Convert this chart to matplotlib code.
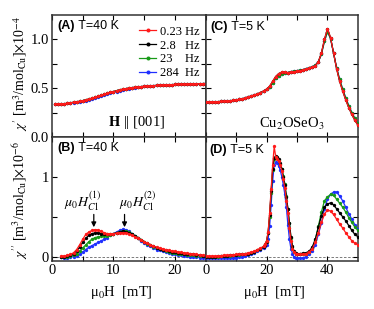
import matplotlib
matplotlib.use('Agg')
import matplotlib.pyplot as plt

plt.rcParams['font.family'] = ['Liberation Serif', 'DejaVu Serif']
plt.rcParams['mathtext.fontset'] = 'stix'

# legend labels / colours per frequency
freqs = ['0.23 Hz', '2.8   Hz', '23    Hz', '284  Hz']
colors = ['#ff1a1a', '#000000', '#189a18', '#1f2fff']

# ---------------- (A) chi' at T=40 K ----------------
field_A = [0.5, 1.0, 1.5, 2.0, 2.5, 3.0, 3.5, 4.0, 4.5, 5.0, 5.5, 6.0, 6.5, 7.0, 7.5,
           8.0, 8.5, 9.0, 9.5, 10.0, 10.5, 11.0, 11.5, 12.0, 12.5, 13.0, 13.5, 14.0,
           14.5, 15.0, 15.5, 16.0, 16.5, 17.0, 17.5, 18.0, 18.5, 19.0, 19.5, 20.0,
           20.5, 21.0, 21.5, 22.0, 22.5, 23.0, 23.5, 24.0, 24.5, 25.0]
chi1_A_023 = [0.34, 0.34, 0.34, 0.34, 0.345, 0.35, 0.355, 0.36, 0.365, 0.372, 0.38, 0.388,
              0.397, 0.406, 0.416, 0.426, 0.436, 0.446, 0.456, 0.465, 0.474, 0.482, 0.489,
              0.495, 0.50, 0.505, 0.509, 0.513, 0.516, 0.519, 0.522, 0.524, 0.526, 0.528,
              0.53, 0.532, 0.533, 0.535, 0.536, 0.538, 0.539, 0.54, 0.541, 0.542, 0.543,
              0.544, 0.545, 0.546, 0.547, 0.548]
chi1_A_28 = chi1_A_023
chi1_A_23 = chi1_A_023
chi1_A_284 = [0.34, 0.34, 0.34, 0.34, 0.343, 0.347, 0.35, 0.354, 0.358, 0.364, 0.371, 0.378,
              0.386, 0.395, 0.405, 0.415, 0.425, 0.436, 0.446, 0.456, 0.466, 0.475, 0.483,
              0.49, 0.496, 0.502, 0.507, 0.511, 0.515, 0.518, 0.521, 0.524, 0.526, 0.528,
              0.53, 0.532, 0.533, 0.535, 0.536, 0.538, 0.539, 0.54, 0.541, 0.542, 0.543,
              0.544, 0.545, 0.546, 0.547, 0.548]

# ---------------- (C) chi' at T=5 K ----------------
field_C = list(range(0, 51))
chi1_C_023 = [0.36, 0.36, 0.36, 0.36, 0.36, 0.365, 0.365, 0.37, 0.37, 0.375, 0.38, 0.385,
              0.39, 0.40, 0.41, 0.42, 0.43, 0.44, 0.455, 0.47, 0.49, 0.52, 0.57, 0.62, 0.65,
              0.665, 0.665, 0.66, 0.665, 0.67, 0.675, 0.68, 0.69, 0.695, 0.705, 0.715, 0.73,
              0.77, 0.86, 1.0, 1.11, 1.02, 0.86, 0.70, 0.57, 0.47, 0.38, 0.30, 0.23, 0.17, 0.12]
chi1_C_28 = chi1_C_023
chi1_C_284 = [0.36, 0.36, 0.36, 0.36, 0.36, 0.365, 0.365, 0.37, 0.37, 0.375, 0.38, 0.385,
              0.39, 0.40, 0.41, 0.42, 0.43, 0.44, 0.455, 0.47, 0.49, 0.51, 0.55, 0.60, 0.63,
              0.645, 0.655, 0.66, 0.67, 0.675, 0.68, 0.685, 0.69, 0.70, 0.71, 0.72, 0.735,
              0.77, 0.85, 0.98, 1.08, 1.01, 0.86, 0.71, 0.59, 0.49, 0.40, 0.32, 0.25, 0.19, 0.14]
chi1_C_23 = chi1_C_284

# ---------------- (B) chi'' at T=40 K ----------------
field_B = [1.5, 2.0, 2.5, 3.0, 3.5, 4.0, 4.5, 5.0, 5.5, 6.0, 6.5, 7.0, 7.5, 8.0, 8.5,
           9.0, 9.5, 10.0, 10.5, 11.0, 11.5, 12.0, 12.5, 13.0, 13.5, 14.0, 14.5, 15.0,
           15.5, 16.0, 16.5, 17.0, 17.5, 18.0, 18.5, 19.0, 19.5, 20.0, 20.5, 21.0,
           21.5, 22.0, 22.5, 23.0, 23.5, 24.0, 24.5, 25.0]
chi2_B_023 = [0.01, 0.01, 0.02, 0.03, 0.05, 0.09, 0.15, 0.22, 0.28, 0.31, 0.33, 0.34, 0.335,
              0.32, 0.30, 0.29, 0.29, 0.29, 0.295, 0.30, 0.30, 0.30, 0.29, 0.27, 0.25, 0.23,
              0.21, 0.19, 0.17, 0.15, 0.135, 0.12, 0.11, 0.10, 0.09, 0.08, 0.075, 0.07, 0.06,
              0.055, 0.05, 0.045, 0.04, 0.035, 0.03, 0.025, 0.02, 0.02]
chi2_B_28 = [0.0, 0.0, 0.01, 0.02, 0.04, 0.07, 0.12, 0.18, 0.23, 0.27, 0.29, 0.30, 0.30,
             0.29, 0.28, 0.28, 0.285, 0.29, 0.30, 0.31, 0.32, 0.315, 0.30, 0.28, 0.26, 0.235,
             0.21, 0.19, 0.17, 0.15, 0.13, 0.115, 0.10, 0.09, 0.08, 0.07, 0.065, 0.06, 0.05,
             0.045, 0.04, 0.035, 0.03, 0.03, 0.025, 0.02, 0.015, 0.015]
chi2_B_23 = [0.0, 0.0, 0.0, 0.01, 0.02, 0.04, 0.07, 0.11, 0.15, 0.19, 0.22, 0.24, 0.25,
             0.255, 0.26, 0.265, 0.275, 0.285, 0.30, 0.315, 0.325, 0.325, 0.31, 0.29, 0.265,
             0.24, 0.215, 0.19, 0.165, 0.145, 0.125, 0.11, 0.095, 0.08, 0.07, 0.06, 0.05,
             0.045, 0.04, 0.035, 0.03, 0.025, 0.02, 0.02, 0.015, 0.01, 0.01, 0.01]
chi2_B_284 = [0.0, -0.01, -0.01, 0.0, 0.0, 0.01, 0.03, 0.06, 0.09, 0.12, 0.14, 0.16, 0.18,
              0.20, 0.22, 0.24, 0.27, 0.29, 0.31, 0.33, 0.345, 0.34, 0.32, 0.29, 0.26, 0.23,
              0.20, 0.17, 0.15, 0.13, 0.11, 0.09, 0.08, 0.07, 0.06, 0.05, 0.04, 0.03, 0.02,
              0.02, 0.01, 0.01, 0.0, 0.0, 0.0, -0.01, -0.01, -0.01]

# ---------------- (D) chi'' at T=5 K ----------------
field_D = [0, 1, 2, 3, 4, 5, 6, 7, 8, 9, 10, 11, 12, 13, 14, 15, 16, 17, 18, 19,
           19.5, 20, 20.5, 21, 21.5, 22, 22.5, 23, 23.5, 24, 24.5, 25, 25.5, 26, 26.5,
           27, 27.5, 28, 28.5, 29, 29.5, 30,
           31, 32, 33, 34, 35, 36, 37, 38, 39, 40, 41, 42, 43, 44, 45, 46, 47, 48, 49, 50]
chi2_D_023 = [0.01, 0.01, 0.01, 0.01, 0.01, 0.015, 0.02, 0.02, 0.02, 0.025, 0.03, 0.03,
              0.035, 0.04, 0.05, 0.06, 0.07, 0.09, 0.11, 0.13,
              0.16, 0.20, 0.31, 0.55, 0.85, 1.15, 1.38, 1.25, 1.22, 1.20, 1.15, 1.07, 0.97,
              0.86, 0.70, 0.55, 0.36, 0.20, 0.10, 0.06, 0.04, 0.03,
              0.03, 0.03, 0.04, 0.06, 0.10, 0.18, 0.30, 0.43, 0.53, 0.59, 0.57, 0.53, 0.47,
              0.41, 0.36, 0.30, 0.25, 0.20, 0.17, 0.15]
chi2_D_28 = [0.0, 0.0, 0.0, 0.0, 0.005, 0.01, 0.01, 0.015, 0.02, 0.02, 0.025, 0.03, 0.03,
             0.035, 0.04, 0.05, 0.06, 0.08, 0.10, 0.12,
             0.15, 0.19, 0.30, 0.52, 0.82, 1.10, 1.24, 1.26, 1.25, 1.22, 1.17, 1.10, 1.00,
             0.90, 0.75, 0.60, 0.42, 0.25, 0.13, 0.07, 0.05, 0.04,
             0.04, 0.045, 0.05, 0.07, 0.12, 0.22, 0.37, 0.51, 0.62, 0.66, 0.675, 0.65, 0.60,
             0.55, 0.50, 0.45, 0.39, 0.33, 0.28, 0.25]
chi2_D_23 = [0.0, 0.0, 0.0, 0.0, 0.0, 0.005, 0.01, 0.01, 0.015, 0.02, 0.02, 0.025, 0.03,
             0.035, 0.04, 0.05, 0.06, 0.08, 0.10, 0.13,
             0.16, 0.20, 0.30, 0.50, 0.80, 1.08, 1.22, 1.25, 1.24, 1.21, 1.16, 1.10, 1.01,
             0.91, 0.76, 0.60, 0.42, 0.24, 0.12, 0.06, 0.04, 0.03,
             0.03, 0.035, 0.04, 0.06, 0.11, 0.21, 0.38, 0.56, 0.70, 0.75, 0.78, 0.77, 0.72,
             0.67, 0.62, 0.56, 0.49, 0.43, 0.37, 0.33]
chi2_D_284 = [-0.01, -0.01, -0.02, -0.02, -0.02, -0.02, -0.02, -0.02, -0.015, -0.01, -0.01,
              -0.005, 0.0, 0.01, 0.02, 0.03, 0.05, 0.07, 0.09, 0.11,
              0.13, 0.15, 0.22, 0.38, 0.65, 0.95, 1.15, 1.18, 1.17, 1.14, 1.08, 1.00, 0.90,
              0.78, 0.62, 0.40, 0.22, 0.10, 0.04, 0.0, -0.01, -0.02,
              -0.02, -0.01, 0.0, 0.03, 0.07, 0.15, 0.28, 0.42, 0.60, 0.72, 0.78, 0.81, 0.81,
              0.76, 0.70, 0.62, 0.54, 0.47, 0.40, 0.35]

fig = plt.figure(figsize=(3.74, 3.09), dpi=100)
axA = fig.add_axes([0.139, 0.557, 0.411, 0.394])
axC = fig.add_axes([0.550, 0.557, 0.407, 0.394])
axB = fig.add_axes([0.139, 0.156, 0.411, 0.401])
axD = fig.add_axes([0.550, 0.156, 0.407, 0.401])


def draw(ax, x, series):
    # highest frequency first so the 0.23 Hz curve ends up on top
    for i in [3, 2, 1, 0]:
        ax.plot(x, series[i], '-o', color=colors[i], lw=0.9, ms=2.4,
                mew=0, label=freqs[i], zorder=3 + (3 - i))


draw(axA, field_A, [chi1_A_023, chi1_A_28, chi1_A_23, chi1_A_284])
draw(axC, field_C, [chi1_C_023, chi1_C_28, chi1_C_23, chi1_C_284])
draw(axB, field_B, [chi2_B_023, chi2_B_28, chi2_B_23, chi2_B_284])
draw(axD, field_D, [chi2_D_023, chi2_D_28, chi2_D_23, chi2_D_284])

for ax in [axB, axD]:
    ax.axhline(0, color='#666666', ls='--', lw=0.6, dashes=(3, 2), zorder=1)

# limits and ticks
for ax in [axA, axB]:
    ax.set_xlim(0, 25)
    ax.set_xticks([0, 10, 20])
    ax.set_xticks([5, 15], minor=True)
for ax in [axC, axD]:
    ax.set_xlim(0, 50)
    ax.set_xticks([0, 20, 40])
    ax.set_xticks([10, 30], minor=True)
for ax in [axA, axC]:
    ax.set_ylim(0, 1.25)
    ax.set_yticks([0, 0.5, 1.0])
    ax.set_yticks([0.25, 0.75], minor=True)
    ax.tick_params(labelbottom=False)
for ax in [axB, axD]:
    ax.set_ylim(-0.05, 1.5)
    ax.set_yticks([0, 1])
    ax.set_yticks([0.5], minor=True)
axA.set_yticklabels(['0.0', '0.5', '1.0'])
axC.tick_params(labelleft=False)
axD.tick_params(labelleft=False)

for ax in [axA, axB, axC, axD]:
    ax.tick_params(which='both', direction='in', top=True, right=True,
                   length=3.5, width=0.8, labelsize=10.5, pad=2)
    for s in ax.spines.values():
        s.set_linewidth(1.1)
        s.set_color('#333333')

# axis labels
axA.set_ylabel(r"$\chi'$ [m$^3$/mol$_{\rm Cu}$]$\times$10$^{-4}$", fontsize=10)
axB.set_ylabel(r"$\chi''$ [m$^3$/mol$_{\rm Cu}$]$\times$10$^{-6}$", fontsize=10)
axA.yaxis.set_label_coords(-0.14, 0.52)
axB.yaxis.set_label_coords(-0.14, 0.49)
for ax in [axB, axD]:
    ax.set_xlabel(r"μ$_0$H  [mT]", fontsize=10.5)
    ax.xaxis.set_label_coords(0.45, -0.19)

# panel labels
panels = [(axA, '(A)', ' T=40 K', 0.033, 0.91), (axB, '(B)', ' T=40 K', 0.033, 0.91),
          (axC, '(C)', ' T=5 K', 0.033, 0.905), (axD, '(D)', ' T=5 K', 0.024, 0.895)]
for ax, tag, temp, px, py in panels:
    t = ax.text(px, py, tag, transform=ax.transAxes, fontsize=9, weight='bold',
                family='Liberation Sans', va='center', ha='left', zorder=10)
    ax.annotate(temp, xy=(1, 0.5), xycoords=t, fontsize=9, family='Liberation Sans',
                va='center', ha='left', zorder=10)

# legend in (A)
handles, labels = axA.get_legend_handles_labels()
axA.legend(handles[::-1], labels[::-1], loc='upper right', bbox_to_anchor=(1.01, 0.975),
           frameon=False, fontsize=9, handlelength=1.4, handletextpad=0.3,
           labelspacing=0.15, borderaxespad=0.2, markerscale=1.2)

axA.text(0.55, 0.12, r"$\mathbf{H}$ || [001]", transform=axA.transAxes,
         fontsize=10.5, ha='center', va='center')
axC.text(0.565, 0.11, r"Cu$_2$OSeO$_3$", transform=axC.transAxes,
         fontsize=10.5, ha='center', va='center')

# critical field markers in (B)
axB.text(5.0, 0.69, r"$\mu_0 H_{C1}^{(1)}$", fontsize=10, ha='center', va='center')
axB.text(13.9, 0.69, r"$\mu_0 H_{C1}^{(2)}$", fontsize=10, ha='center', va='center')
for xa in [6.8, 11.8]:
    axB.annotate('', xy=(xa, 0.37), xytext=(xa, 0.53),
                 arrowprops=dict(arrowstyle='-|>', color='black', lw=0.9,
                                 mutation_scale=7, shrinkA=0, shrinkB=0))

fig.savefig('out.png', dpi=100)
